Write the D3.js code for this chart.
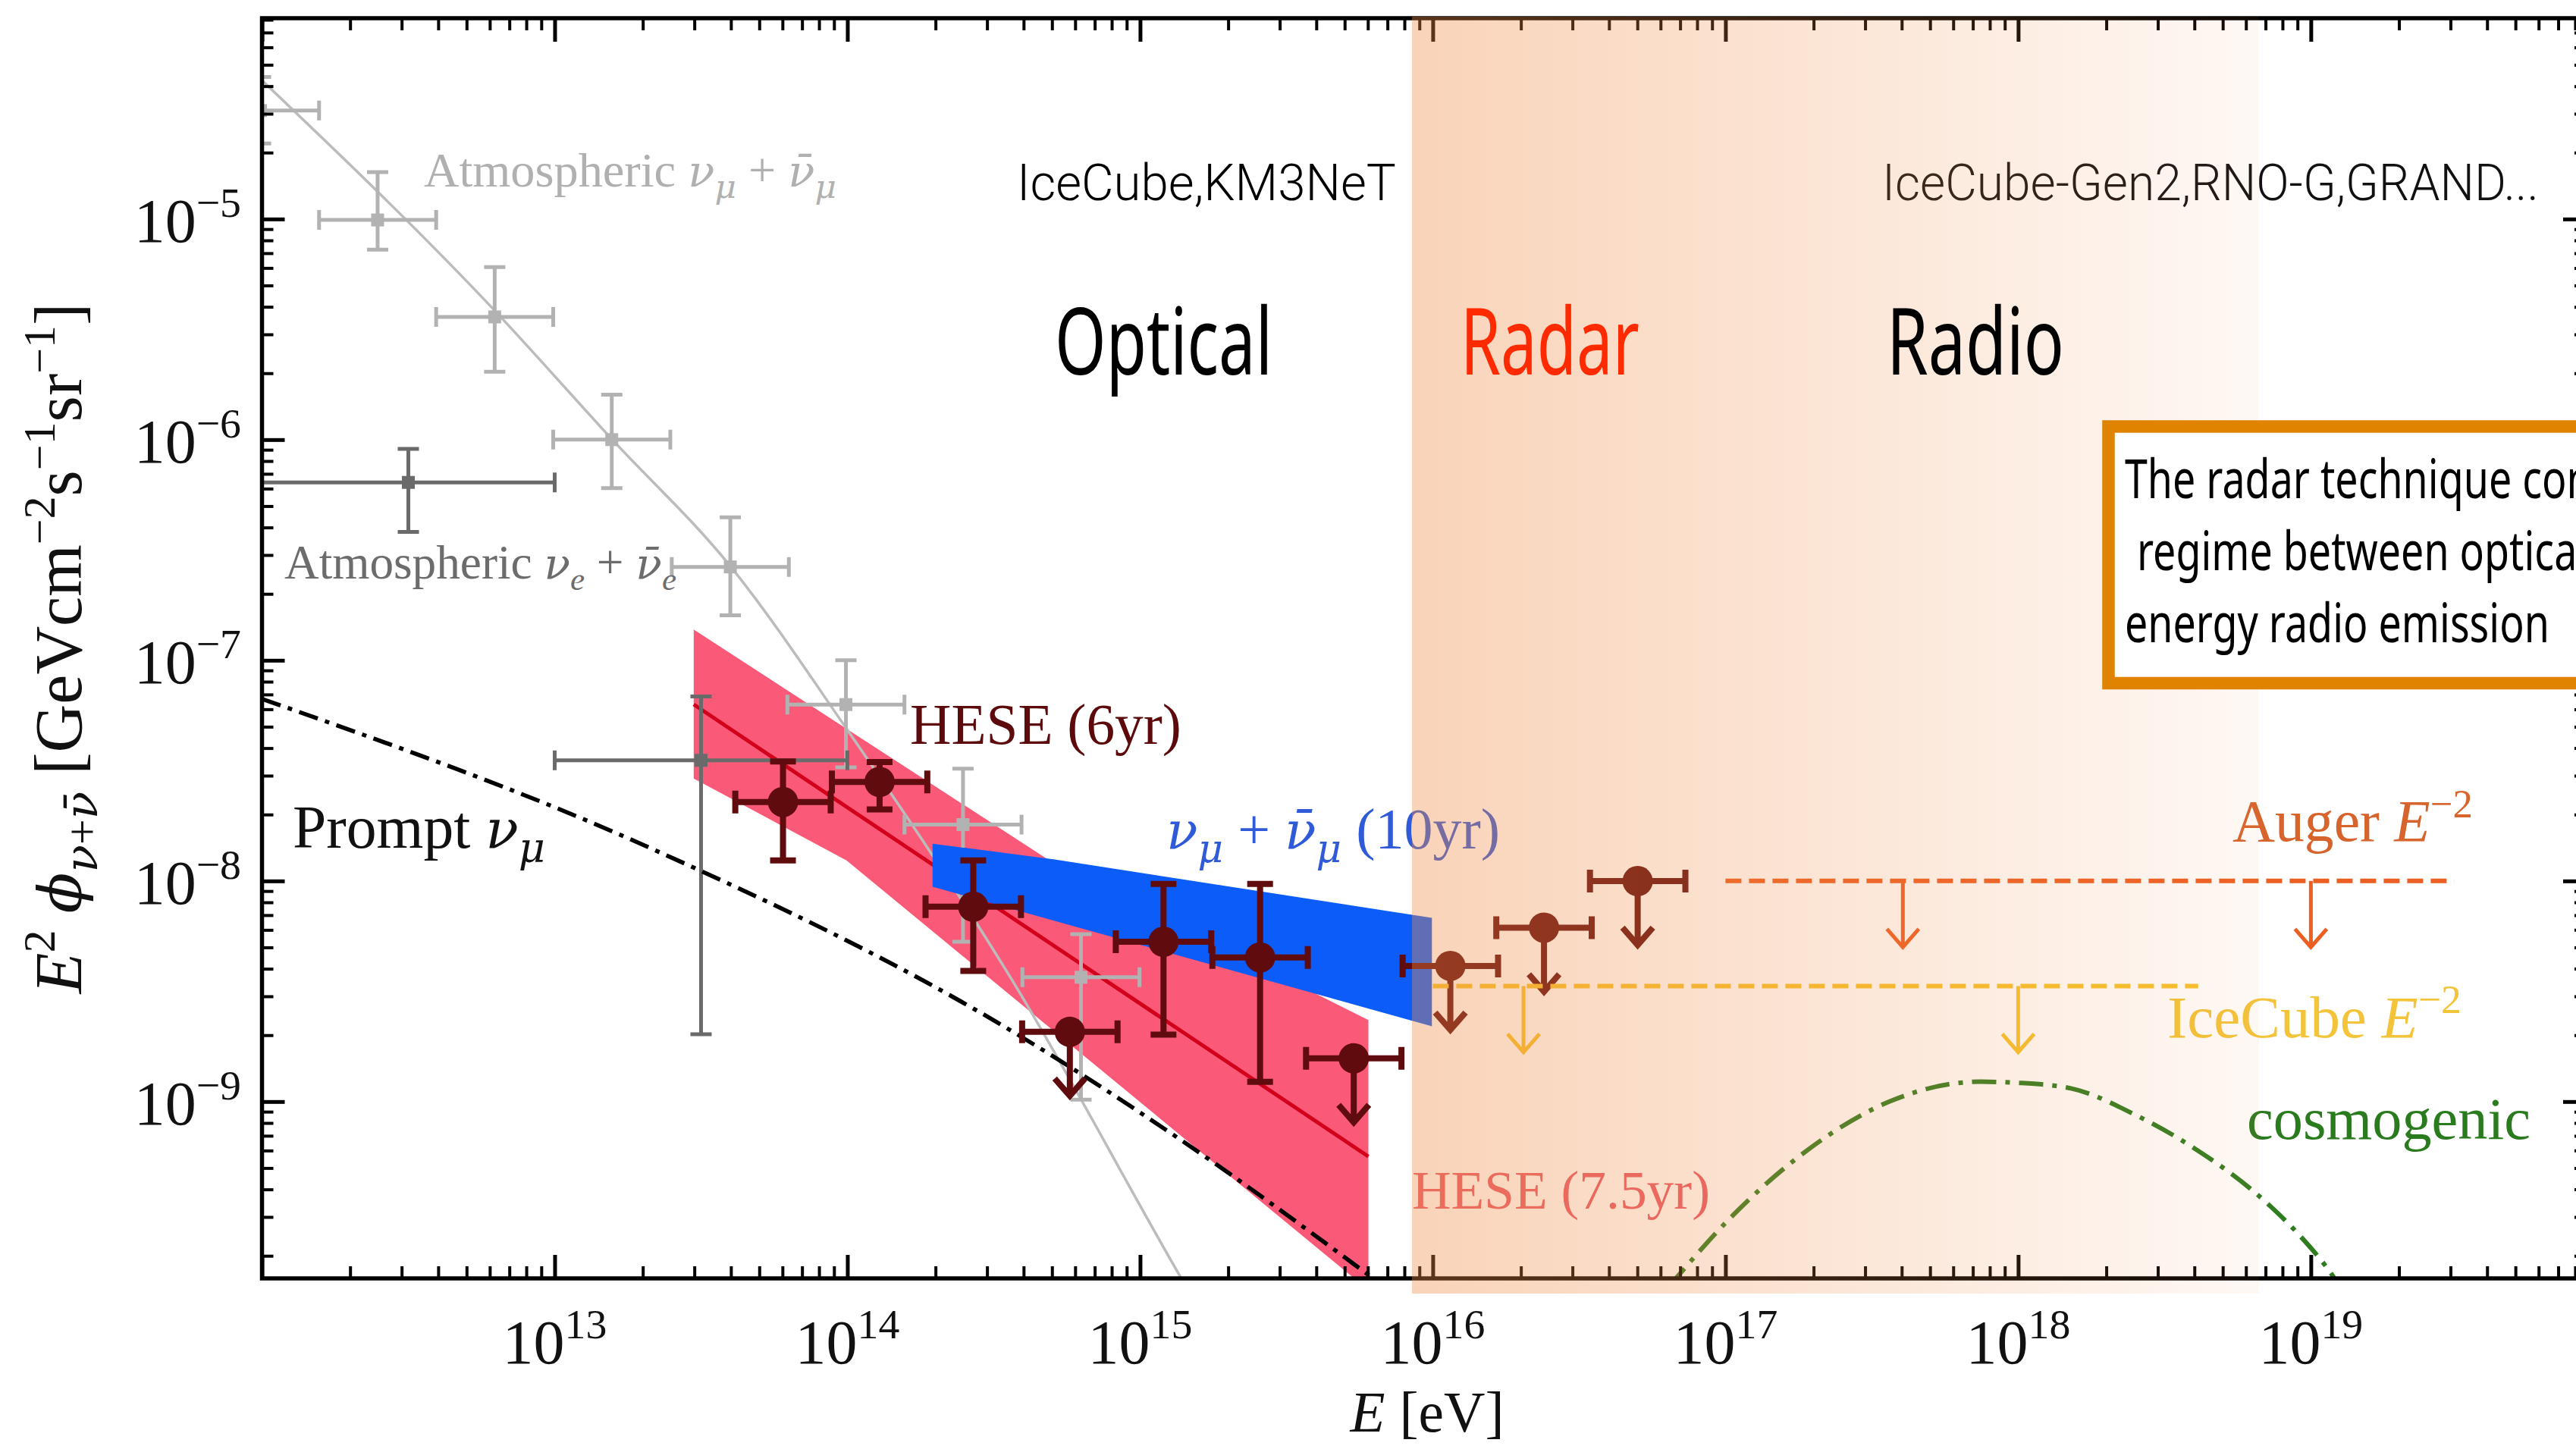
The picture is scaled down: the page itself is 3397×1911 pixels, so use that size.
<!DOCTYPE html>
<html>
<head>
<meta charset="utf-8">
<script src="https://cdn.jsdelivr.net/npm/d3@7"></script>
<style>
  html, body { margin: 0; padding: 0; background: #fff; }
  svg { display: block; }
</style>
</head>
<body>
<script>
// ---------------------------------------------------------------------------
// Diffuse neutrino flux landscape: E^2 * flux versus energy, with the energy
// ranges of optical, radar and radio detection techniques.
// ---------------------------------------------------------------------------

// Axis extents (eV, GeV cm^-2 s^-1 sr^-1)
const xDomain = [1e12, 8.7e19];
const yDomain = [1.58e-10, 8.13e-5];
const xTickExp = [13, 14, 15, 16, 17, 18, 19];
const yTickExp = [-9, -8, -7, -6, -5];

// Atmospheric nu_mu + anti-nu_mu unfolded spectrum (bin centres in log10 E/eV)
const atmMuLogE = [11.995, 12.395, 12.795, 13.195, 13.6, 13.995, 14.395, 14.798];
const atmMuFlux = [3.1e-5, 9.9e-6, 3.6e-6, 1.0e-6, 2.65e-7, 6.3e-8, 1.8e-8, 3.66e-9];
const atmMuHi   = [4.4e-5, 1.63e-5, 6.05e-6, 1.6e-6, 4.45e-7, 1.0e-7, 3.23e-8, 5.74e-9];
const atmMuLo   = [2.2e-5, 7.26e-6, 2.03e-6, 6.03e-7, 1.6e-7, 3.27e-8, 5.3e-9, 1.02e-9];
const atmMuHalfBin = 0.2;

// Conventional atmospheric model curve (log10 E, log10 E^2 flux)
const atmCurveLogE    = [12.0, 12.795, 13.194, 13.601, 13.997, 14.562, 15.145, 15.45];
const atmCurveLogFlux = [-4.372, -5.415, -5.996, -6.575, -7.31, -8.448, -9.811, -10.5];

// Atmospheric nu_e + anti-nu_e
const atmELogE = [12.5, 13.5];
const atmEFlux = [6.4e-7, 3.52e-8];
const atmEHi   = [9.08e-7, 6.86e-8];
const atmELo   = [3.82e-7, 2.02e-9];
const atmEHalfBin = 0.5;

// Prompt nu_mu model
const promptLogE    = [12.0, 13.308, 14.58, 15.135, 15.79];
const promptLogFlux = [-7.175, -7.84, -8.695, -9.17, -9.795];

// HESE 7.5 yr power-law fit: best fit and uncertainty envelope
const hese75LogE      = [13.475, 15.78];
const hese75LogFlux   = [-7.2, -9.249];
const hese75UpLogE    = [13.475, 14.689, 15.78];
const hese75UpLogFlux = [-6.861, -7.906, -8.63];
const hese75LoLogE    = [13.475, 13.997, 15.78];
const hese75LoLogFlux = [-7.536, -7.907, -9.854];

// Through-going nu_mu + anti-nu_mu 10 yr envelope
const numuUpLogE    = [14.291, 14.708, 15.997];
const numuUpLogFlux = [-7.831, -7.903, -8.167];
const numuLoLogE    = [14.291, 15.997];
const numuLoLogFlux = [-8.026, -8.659];

// HESE 6 yr unfolded points (upper limits flagged)
const hese6LogE  = [13.78, 14.11, 14.43, 14.76, 15.08, 15.41, 15.73, 16.06, 16.38, 16.70];
const hese6Flux  = [2.28e-8, 2.81e-8, 7.64e-9, 2.07e-9, 5.3e-9, 4.5e-9, 1.57e-9, 4.12e-9, 6.14e-9, 9.98e-9];
const hese6Hi    = [3.48e-8, 3.46e-8, 1.24e-8, null, 9.7e-9, 9.7e-9, null, null, null, null];
const hese6Lo    = [1.24e-8, 2.11e-8, 3.91e-9, null, 2.01e-9, 1.23e-9, null, null, null, null];
const hese6Upper = [false, false, false, true, false, false, true, true, true, true];
const hese6HalfBin = 0.163;

// E^-2 differential limits
const augerLogE = [17.0, 19.49];
const augerFlux = 1e-8;
const augerArrowLogE = [17.606, 19.0];
const icLogE = [16.0, 18.615];
const icFlux = 3.34e-9;
const icArrowLogE = [16.31, 18.0];

// Cosmogenic neutrino model
const cosmoLogE    = [16.70, 16.831, 17.0, 17.28, 17.56, 17.87, 18.0, 18.18, 18.40, 18.60, 18.85, 18.95, 19.08, 19.15];
const cosmoLogFlux = [-10.0, -9.80, -9.55, -9.22, -9.0, -8.91, -8.915, -8.94, -9.06, -9.21, -9.46, -9.59, -9.80, -9.95];

// ---------------------------------------------------------------------------
const W = 3397, H = 1911;
const SERIF = "'Liberation Serif','DejaVu Serif',serif";
const GREEK = "'DejaVu Serif',serif";
const SANS = "'Noto Sans','Open Sans',sans-serif";
const LIGHT = "Roboto,'Noto Sans',sans-serif";

const frame = { left: 345.5, right: 3410, top: 24, bottom: 1686 };

const svg = d3.select("body").append("svg")
  .attr("width", W).attr("height", H).attr("viewBox", `0 0 ${W} ${H}`);
svg.append("rect").attr("width", W).attr("height", H).attr("fill", "#fff");

const x = d3.scaleLog().domain(xDomain).range([frame.left, frame.right]);
const y = d3.scaleLog().domain(yDomain).range([frame.bottom, frame.top]);
const X = l => x(Math.pow(10, l));
const Y = l => y(Math.pow(10, l));

const defs = svg.append("defs");
defs.append("clipPath").attr("id", "plotClip").append("rect")
  .attr("x", frame.left).attr("y", frame.top)
  .attr("width", frame.right - frame.left).attr("height", frame.bottom - frame.top);

const grad = defs.append("linearGradient").attr("id", "radarFade")
  .attr("x1", 0).attr("x2", 1).attr("y1", 0).attr("y2", 0);
grad.append("stop").attr("offset", 0).attr("stop-color", "#f08c46").attr("stop-opacity", 0.38);
grad.append("stop").attr("offset", 1).attr("stop-color", "#f08c46").attr("stop-opacity", 0.06);

// rich text with sub/superscripts; optional fitting to a given width
function richText(parent, parts, o) {
  const g = parent.append("g");
  const t = g.append("text")
    .attr("font-family", o.family || SERIF)
    .attr("font-size", o.size)
    .attr("font-weight", o.weight || 400)
    .attr("fill", o.color || "#000")
    .attr("text-anchor", o.anchor || "start");
  let cur = 0;
  parts.forEach(p => {
    const s = typeof p === "string" ? { t: p } : p;
    const off = s.sup ? -0.40 * o.size : s.sub ? 0.24 * o.size : 0;
    const ts = t.append("tspan").text(s.t);
    if (off !== cur) ts.attr("dy", off - cur);
    if (s.sup || s.sub) ts.attr("font-size", 0.68 * o.size * (s.scale || 1));
    else if (s.scale) ts.attr("font-size", o.size * s.scale);
    if (s.it) ts.attr("font-style", "italic");
    if (s.family) ts.attr("font-family", s.family);
    cur = off;
  });
  let sx = 1, sy = 1;
  const natural = t.node().getComputedTextLength();
  if (o.fit) { sx = sy = o.fit / natural; }
  if (o.fitX) { sx = o.fitX / natural; }
  if (o.sx) sx = o.sx;
  g.attr("transform", `translate(${o.x},${o.y})${o.rotate ? ` rotate(${o.rotate})` : ""} scale(${sx},${sy})`);
  return { g, sx };
}

const plotG = svg.append("g").attr("clip-path", "url(#plotClip)");

// HESE 7.5 yr band and best fit
const bandPts = hese75UpLogE.map((l, i) => [X(l), Y(hese75UpLogFlux[i])])
  .concat(hese75LoLogE.map((l, i) => [X(l), Y(hese75LoLogFlux[i])]).reverse());
plotG.append("path").attr("d", "M" + bandPts.join("L") + "Z").attr("fill", "#fa5a78");
plotG.append("path")
  .attr("d", d3.line()(hese75LogE.map((l, i) => [X(l), Y(hese75LogFlux[i])])))
  .attr("fill", "none").attr("stroke", "#d3001c").attr("stroke-width", 5);

// atmospheric model curve
plotG.append("path")
  .attr("d", d3.line().curve(d3.curveMonotoneX)(atmCurveLogE.map((l, i) => [X(l), Y(atmCurveLogFlux[i])])))
  .attr("fill", "none").attr("stroke", "#bcbcbc").attr("stroke-width", 3.5);

const ARROW_DEC = 0.29;

function errorSeries(g, s) {
  s.logE.forEach((le, i) => {
    const cx = X(le), cy = y(s.flux[i]);
    const x0 = X(le - s.halfBin), x1 = X(le + s.halfBin);
    const p = d3.path();
    p.moveTo(x0, cy); p.lineTo(x1, cy);
    p.moveTo(x0, cy - s.capH / 2); p.lineTo(x0, cy + s.capH / 2);
    p.moveTo(x1, cy - s.capH / 2); p.lineTo(x1, cy + s.capH / 2);
    if (s.upper && s.upper[i]) {
      const ty = y(s.flux[i] * Math.pow(10, -ARROW_DEC));
      p.moveTo(cx, cy); p.lineTo(cx, ty);
      p.moveTo(cx - 20, ty - 23); p.lineTo(cx, ty); p.lineTo(cx + 20, ty - 23);
    } else {
      const yt = y(s.hi[i]), yb = y(s.lo[i]);
      p.moveTo(cx, yt); p.lineTo(cx, yb);
      p.moveTo(cx - s.capW / 2, yt); p.lineTo(cx + s.capW / 2, yt);
      p.moveTo(cx - s.capW / 2, yb); p.lineTo(cx + s.capW / 2, yb);
    }
    g.append("path").attr("d", p.toString()).attr("fill", "none")
      .attr("stroke", s.color).attr("stroke-width", s.lw);
    if (s.marker === "circle") {
      g.append("circle").attr("cx", cx).attr("cy", cy).attr("r", s.size).attr("fill", s.color);
    } else {
      g.append("rect").attr("x", cx - s.size / 2).attr("y", cy - s.size / 2)
        .attr("width", s.size).attr("height", s.size).attr("fill", s.color);
    }
  });
}

errorSeries(plotG, { logE: atmMuLogE, flux: atmMuFlux, hi: atmMuHi, lo: atmMuLo, halfBin: atmMuHalfBin,
  color: "#b2b2b2", lw: 5, capH: 26, capW: 28, marker: "square", size: 17 });
errorSeries(plotG, { logE: atmELogE, flux: atmEFlux, hi: atmEHi, lo: atmELo, halfBin: atmEHalfBin,
  color: "#6a6a6a", lw: 5, capH: 26, capW: 28, marker: "square", size: 17 });

// prompt model
plotG.append("path")
  .attr("d", d3.line().curve(d3.curveMonotoneX)(promptLogE.map((l, i) => [X(l), Y(promptLogFlux[i])])))
  .attr("fill", "none").attr("stroke", "#000").attr("stroke-width", 5.5)
  .attr("stroke-dasharray", "26,10,6,10");

// nu_mu 10 yr band
const numuPts = numuUpLogE.map((l, i) => [X(l), Y(numuUpLogFlux[i])])
  .concat(numuLoLogE.map((l, i) => [X(l), Y(numuLoLogFlux[i])]).reverse());
plotG.append("path").attr("d", "M" + numuPts.join("L") + "Z").attr("fill", "#0b5cf8");

// HESE 6 yr
errorSeries(plotG, { logE: hese6LogE, flux: hese6Flux, hi: hese6Hi, lo: hese6Lo, upper: hese6Upper,
  halfBin: hese6HalfBin, color: "#600b0d", lw: 8, capH: 30, capW: 34, marker: "circle", size: 20 });

// E^-2 limits
function limitLine(g, logE, flux, arrows, color) {
  const yy = y(flux);
  g.append("line").attr("x1", X(logE[0])).attr("x2", X(logE[1])).attr("y1", yy).attr("y2", yy)
    .attr("stroke", color).attr("stroke-width", 6).attr("stroke-dasharray", "21,10");
  const ty = y(flux * Math.pow(10, -0.3));
  arrows.forEach(l => {
    const cx = X(l);
    g.append("path")
      .attr("d", `M${cx},${yy}L${cx},${ty}M${cx - 21},${ty - 24}L${cx},${ty}L${cx + 21},${ty - 24}`)
      .attr("fill", "none").attr("stroke", color).attr("stroke-width", 5);
  });
}
limitLine(plotG, augerLogE, augerFlux, augerArrowLogE, "#ec5f22");
limitLine(plotG, icLogE, icFlux, icArrowLogE, "#f6c22c");

// cosmogenic model
plotG.append("path")
  .attr("d", d3.line().curve(d3.curveMonotoneX)(cosmoLogE.map((l, i) => [X(l), Y(cosmoLogFlux[i])])))
  .attr("fill", "none").attr("stroke", "#2f7d20").attr("stroke-width", 6)
  .attr("stroke-dasharray", "32,12,6,12");

// ---------------------------------------------------------------------------
// curve and data labels
const labels = svg.append("g");
const nu = { t: "\u03BD", it: true, family: GREEK, scale: 0.9 };
const nubar = { t: "\u03BD\u0304", it: true, family: GREEK, scale: 0.9 };
const sub = (t, extra) => Object.assign({ t, sub: true, it: true }, extra || {});
richText(labels, ["Atmospheric ", nu, sub("\u03BC", { family: GREEK }), " + ", nubar, sub("\u03BC", { family: GREEK })],
  { x: 559, y: 246, size: 60, color: "#b0b0b0", fit: 544 });
richText(labels, ["Atmospheric ", nu, sub("e"), " + ", nubar, sub("e")],
  { x: 375, y: 763, size: 60, color: "#6c6c6c", fit: 517 });
richText(labels, ["Prompt ", nu, sub("\u03BC", { family: GREEK })],
  { x: 386, y: 1118, size: 64, color: "#111", fit: 333 });
richText(labels, ["HESE (6yr)"], { x: 1200, y: 981, size: 64, color: "#5c0a0c", fit: 358 });
richText(labels, [nu, sub("\u03BC", { family: GREEK }), " + ", nubar, sub("\u03BC", { family: GREEK }), " (10yr)"],
  { x: 1538, y: 1119, size: 64, color: "#2f5ad8", fit: 440 });
richText(labels, ["HESE (7.5yr)"], { x: 1862, y: 1594, size: 64, color: "#e85a68", fit: 393 });
richText(labels, ["Auger ", { t: "E", it: true }, { t: "\u22122", sup: true }],
  { x: 2944, y: 1109, size: 64, color: "#d6642c", fit: 317 });
richText(labels, ["IceCube ", { t: "E", it: true }, { t: "\u22122", sup: true }],
  { x: 2858, y: 1368, size: 64, color: "#f3c43a", fit: 388 });
richText(labels, ["cosmogenic"], { x: 2963, y: 1502, size: 64, color: "#2a7a1e", fit: 374 });

// ---------------------------------------------------------------------------
// axes: frame, inward ticks on all four sides
const axes = svg.append("g");
const majorX = d3.range(12, 20).map(k => Math.pow(10, k)).filter(v => v >= xDomain[0] && v <= xDomain[1]);
const minorX = [];
d3.range(12, 20).forEach(k => d3.range(2, 10).forEach(m => {
  const v = m * Math.pow(10, k); if (v > xDomain[0] && v < xDomain[1]) minorX.push(v);
}));
const majorY = d3.range(-10, -3).map(k => Math.pow(10, k)).filter(v => v >= yDomain[0] && v <= yDomain[1]);
const minorY = [];
d3.range(-10, -4).forEach(k => d3.range(2, 10).forEach(m => {
  const v = m * Math.pow(10, k); if (v > yDomain[0] && v < yDomain[1]) minorY.push(v);
}));

function tickAxis(axisFn, scale, values, size, width, transform) {
  const g = axes.append("g").attr("transform", transform)
    .call(axisFn(scale).tickValues(values).tickSize(size).tickSizeOuter(0).tickFormat(() => ""));
  g.select(".domain").remove();
  g.selectAll(".tick line").attr("stroke", "#000").attr("stroke-width", width);
}
tickAxis(d3.axisBottom, x, majorX, -31, 5, `translate(0,${frame.bottom})`);
tickAxis(d3.axisBottom, x, minorX, -16, 4, `translate(0,${frame.bottom})`);
tickAxis(d3.axisTop, x, majorX, -31, 5, `translate(0,${frame.top})`);
tickAxis(d3.axisTop, x, minorX, -16, 4, `translate(0,${frame.top})`);
tickAxis(d3.axisLeft, y, majorY, -30, 5, `translate(${frame.left},0)`);
tickAxis(d3.axisLeft, y, minorY, -15, 4, `translate(${frame.left},0)`);
tickAxis(d3.axisRight, y, majorY, -30, 5, `translate(${frame.right},0)`);
tickAxis(d3.axisRight, y, minorY, -15, 4, `translate(${frame.right},0)`);

axes.append("rect")
  .attr("x", frame.left).attr("y", frame.top)
  .attr("width", frame.right - frame.left).attr("height", frame.bottom - frame.top)
  .attr("fill", "none").attr("stroke", "#000").attr("stroke-width", 5.5);

xTickExp.forEach(k => richText(axes, ["10", { t: String(k), sup: true }],
  { x: x(Math.pow(10, k)), y: 1798, size: 82, anchor: "middle", color: "#111" }));
yTickExp.forEach(k => richText(axes, ["10", { t: "\u2212" + (-k), sup: true }],
  { x: 318, y: y(Math.pow(10, k)) + 30, size: 82, anchor: "end", color: "#111" }));

richText(axes, [{ t: "E", it: true }, " [eV]"], { x: 1882, y: 1888, size: 76, anchor: "middle", fit: 203, color: "#111" });
richText(axes, [{ t: "E", it: true }, { t: "2", sup: true }, " ", { t: "\u03D5", it: true, family: GREEK, scale: 0.9 },
  { t: "\u03BD", sub: true, it: true, family: GREEK }, { t: "+", sub: true }, { t: "\u03BD\u0304", sub: true, it: true, family: GREEK },
  " [GeVcm", { t: "\u22122", sup: true }, "s", { t: "\u22121", sup: true }, "sr", { t: "\u22121", sup: true }, "]"],
  { x: 107, y: 855, size: 80, anchor: "middle", rotate: -90, fit: 911, color: "#111" });

// ---------------------------------------------------------------------------
// detection technique annotations
const notes = svg.append("g");
const optical = richText(notes, ["Optical"], { x: 1391, y: 494, size: 123, family: SANS, fitX: 287, color: "#000" });
const COND = optical.sx;
richText(notes, ["IceCube,KM3NeT"], { x: 1341, y: 264, size: 67, family: LIGHT, weight: 300, fitX: 500, color: "#000" });
richText(notes, ["IceCube-Gen2,RNO-G,GRAND..."], { x: 2482, y: 264, size: 67, family: LIGHT, weight: 300, fitX: 866, color: "#111" });

// energy range where radar applies
svg.append("rect").attr("x", 1862).attr("y", 22).attr("width", 1117).attr("height", 1684)
  .attr("fill", "url(#radarFade)");

richText(svg, ["Radar"], { x: 1926, y: 494, size: 123, family: SANS, fitX: 236, color: "#ff2a00" });
richText(svg, ["Radio"], { x: 2488, y: 494, size: 123, family: SANS, fitX: 234, color: "#000" });

// call-out box
const box = svg.append("g");
box.append("rect").attr("x", 2780.5).attr("y", 562.5).attr("width", 700).attr("height", 338.5)
  .attr("fill", "#fff").attr("stroke", "#e08300").attr("stroke-width", 16.5);
const BOXSX = COND * 1.06;
richText(box, ["The radar technique connects the"], { x: 2802, y: 657, size: 72, family: SANS, sx: BOXSX, color: "#000" });
richText(box, ["regime between optical and high-"], { x: 2818, y: 752, size: 72, family: SANS, sx: BOXSX, color: "#000" });
richText(box, ["energy radio emission"], { x: 2802, y: 847, size: 72, family: SANS, sx: BOXSX, color: "#000" });
</script>
</body>
</html>
